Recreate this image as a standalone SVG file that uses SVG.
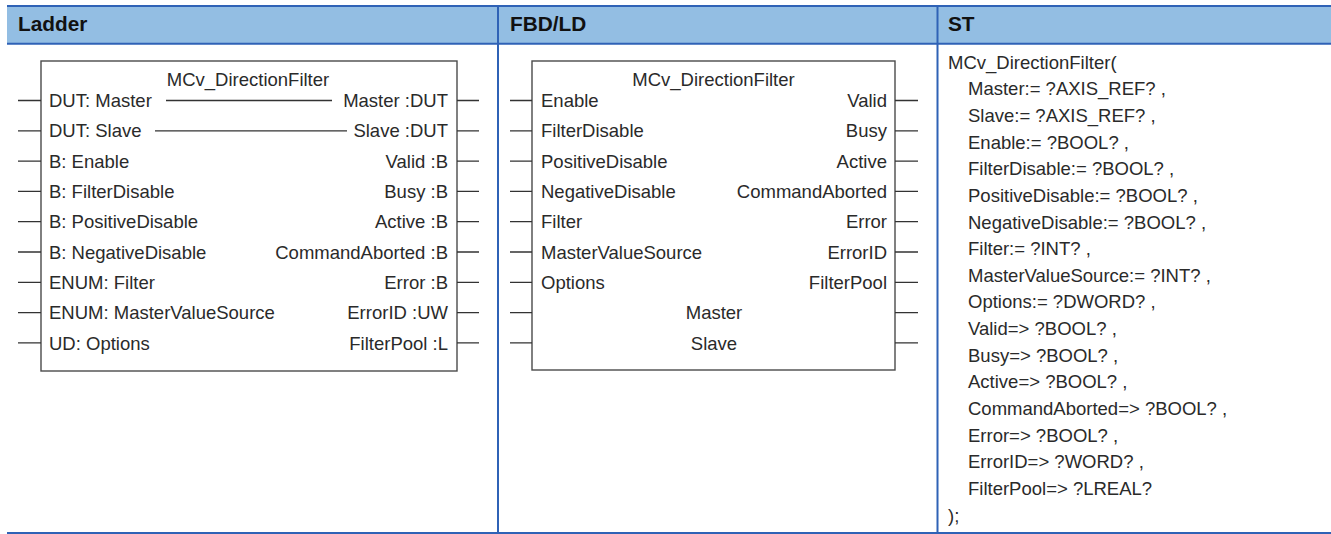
<svg xmlns="http://www.w3.org/2000/svg" width="1331" height="534" viewBox="0 0 1331 534">
<style>
.hdr{fill:#93bee3}
.bl{stroke:#2f62b6;stroke-width:2;fill:none}
.hd{font-family:"Liberation Sans",Arial,sans-serif;font-size:20.8px;font-weight:bold;fill:#111}
.t{font-family:"Liberation Sans",Arial,sans-serif;font-size:18.5px;fill:#2a2a2a}
.e{text-anchor:end}
.m{text-anchor:middle}
.box{fill:#fff;stroke:#4a4a4a;stroke-width:1.4}
.pin{stroke:#333;stroke-width:1.3;fill:none}
</style>
<rect width="1331" height="534" fill="#fff"/>
<g id="table">
<rect class="hdr" x="7" y="6" width="1324" height="37.5"/>
<line class="bl" x1="7" y1="6" x2="1331" y2="6"/>
<line class="bl" x1="7" y1="43.7" x2="1331" y2="43.7"/>
<line class="bl" x1="7" y1="533" x2="1331" y2="533"/>
<line class="bl" x1="498" y1="6" x2="498" y2="533"/>
<line class="bl" x1="937.5" y1="6" x2="937.5" y2="533"/>
<text class="hd" x="18" y="31">Ladder</text>
<text class="hd" x="510" y="31">FBD/LD</text>
<text class="hd" x="948" y="31">ST</text>
</g>
<g id="ladder">
<rect class="box" x="41" y="61" width="416" height="310"/>
<text class="t m" x="248" y="85.6">MCv_DirectionFilter</text>
<g class="pin">
<path d="M18 100.5H41M18 130.8H41M18 161.1H41M18 191.4H41M18 221.7H41M18 252H41M18 282.3H41M18 312.6H41M18 342.9H41"/>
<path d="M457 100.5H479M457 130.8H479M457 161.1H479M457 191.4H479M457 221.7H479M457 252H479M457 282.3H479M457 312.6H479M457 342.9H479"/>
<path d="M166 100.5H332M155 130.8H347"/>
</g>
<text class="t" x="49" y="107.1">DUT: Master</text>
<text class="t" x="49" y="137.4">DUT: Slave</text>
<text class="t" x="49" y="167.7">B: Enable</text>
<text class="t" x="49" y="198">B: FilterDisable</text>
<text class="t" x="49" y="228.3">B: PositiveDisable</text>
<text class="t" x="49" y="258.6">B: NegativeDisable</text>
<text class="t" x="49" y="288.9">ENUM: Filter</text>
<text class="t" x="49" y="319.2">ENUM: MasterValueSource</text>
<text class="t" x="49" y="349.5">UD: Options</text>
<text class="t e" x="448" y="107.1">Master :DUT</text>
<text class="t e" x="448" y="137.4">Slave :DUT</text>
<text class="t e" x="448" y="167.7">Valid :B</text>
<text class="t e" x="448" y="198">Busy :B</text>
<text class="t e" x="448" y="228.3">Active :B</text>
<text class="t e" x="448" y="258.6">CommandAborted :B</text>
<text class="t e" x="448" y="288.9">Error :B</text>
<text class="t e" x="448" y="319.2">ErrorID :UW</text>
<text class="t e" x="448" y="349.5">FilterPool :L</text>
</g>
<g id="fbd">
<rect class="box" x="532" y="61" width="363" height="309"/>
<text class="t m" x="713.5" y="85.6">MCv_DirectionFilter</text>
<g class="pin">
<path d="M510 100.5H532M510 130.8H532M510 161.1H532M510 191.4H532M510 221.7H532M510 252H532M510 282.3H532M510 312.6H532M510 342.9H532"/>
<path d="M895 100.5H918M895 130.8H918M895 161.1H918M895 191.4H918M895 221.7H918M895 252H918M895 282.3H918M895 312.6H918M895 342.9H918"/>
</g>
<text class="t" x="541" y="107.1">Enable</text>
<text class="t" x="541" y="137.4">FilterDisable</text>
<text class="t" x="541" y="167.7">PositiveDisable</text>
<text class="t" x="541" y="198">NegativeDisable</text>
<text class="t" x="541" y="228.3">Filter</text>
<text class="t" x="541" y="258.6">MasterValueSource</text>
<text class="t" x="541" y="288.9">Options</text>
<text class="t m" x="714" y="319.2">Master</text>
<text class="t m" x="714" y="349.5">Slave</text>
<text class="t e" x="887" y="107.1">Valid</text>
<text class="t e" x="887" y="137.4">Busy</text>
<text class="t e" x="887" y="167.7">Active</text>
<text class="t e" x="887" y="198">CommandAborted</text>
<text class="t e" x="887" y="228.3">Error</text>
<text class="t e" x="887" y="258.6">ErrorID</text>
<text class="t e" x="887" y="288.9">FilterPool</text>
</g>
<g id="st">
<text class="t" x="948" y="68.6">MCv_DirectionFilter(</text>
<text class="t" x="968" y="95.2">Master:= ?AXIS_REF? ,</text>
<text class="t" x="968" y="121.9">Slave:= ?AXIS_REF? ,</text>
<text class="t" x="968" y="148.5">Enable:= ?BOOL? ,</text>
<text class="t" x="968" y="175.2">FilterDisable:= ?BOOL? ,</text>
<text class="t" x="968" y="201.8">PositiveDisable:= ?BOOL? ,</text>
<text class="t" x="968" y="228.5">NegativeDisable:= ?BOOL? ,</text>
<text class="t" x="968" y="255.1">Filter:= ?INT? ,</text>
<text class="t" x="968" y="281.8">MasterValueSource:= ?INT? ,</text>
<text class="t" x="968" y="308.4">Options:= ?DWORD? ,</text>
<text class="t" x="968" y="335.1">Valid=&gt; ?BOOL? ,</text>
<text class="t" x="968" y="361.7">Busy=&gt; ?BOOL? ,</text>
<text class="t" x="968" y="388.4">Active=&gt; ?BOOL? ,</text>
<text class="t" x="968" y="415">CommandAborted=&gt; ?BOOL? ,</text>
<text class="t" x="968" y="441.7">Error=&gt; ?BOOL? ,</text>
<text class="t" x="968" y="468.3">ErrorID=&gt; ?WORD? ,</text>
<text class="t" x="968" y="495">FilterPool=&gt; ?LREAL?</text>
<text class="t" x="948" y="521.6">);</text>
</g>
</svg>
